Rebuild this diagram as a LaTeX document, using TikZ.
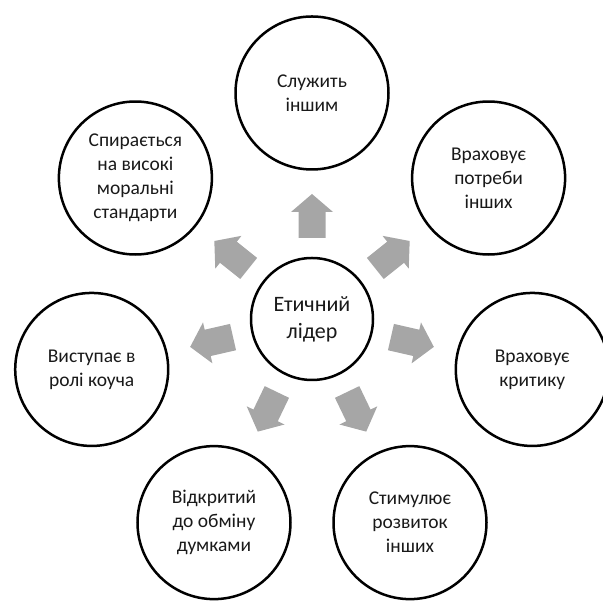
\documentclass[tikz,border=0pt]{standalone}
\usepackage{fontspec}
\setmainfont{Carlito}
\usepackage{xcolor}
\usetikzlibrary{positioning,calc}

\definecolor{arrowgrey}{RGB}{166,166,166}
\definecolor{inkgrey}{RGB}{25,25,25}

\tikzset{
  hub/.style={circle, draw, line width=2.5pt, minimum size=122pt, inner sep=0pt,
    align=center, text=inkgrey, font=\fontsize{22}{27}\selectfont},
  trait/.style={circle, draw, line width=2.5pt, minimum size=153pt, inner sep=0pt,
    align=center, text=inkgrey, font=\fontsize{19.5}{24}\selectfont},
  blockarrow/.style={fill=arrowgrey}
}

\begin{document}
\begin{tikzpicture}[x=1pt, y=1pt]
\useasboundingbox (0,0) rectangle (603,601);

\node[hub] (hub) at (312, 282) {Етичний\\лідер};

\node[trait] (serve)   at ($(hub)+(90:226pt)$)     {Служить\\іншим};
\node[trait] (needs)   at ($(hub)+(38.6:226pt)$)   {Враховує\\потреби\\інших};
\node[trait] (critic)  at ($(hub)+(-12.9:226pt)$)  {Враховує\\критику};
\node[trait] (grow)    at ($(hub)+(-64.3:226pt)$)  {Стимулює\\розвиток\\інших};
\node[trait] (open)    at ($(hub)+(-115.7:226pt)$) {Відкритий\\до обміну\\думками};
\node[trait] (coach)   at ($(hub)+(-167.1:226pt)$) {Виступає в\\ролі коуча};
\node[trait] (moral)   at ($(hub)+(141.4:226pt)$)  {Спирається\\на високі\\моральні\\стандарти};

% block arrows from the hub outwards
\foreach \t in {serve,needs,critic,grow,open,coach,moral}{
  \coordinate (s) at ($(hub.center)!81pt!(\t.center)$);
  \coordinate (h) at ($(hub.center)!107pt!(\t.center)$);
  \coordinate (e) at ($(hub.center)!125pt!(\t.center)$);
  \fill[blockarrow] ($(s)!13.5pt!90:(e)$) -- ($(h)!13.5pt!-90:(s)$)
    -- ($(h)!21pt!-90:(s)$) -- (e) -- ($(h)!21pt!90:(s)$)
    -- ($(h)!13.5pt!90:(s)$) -- ($(s)!13.5pt!-90:(e)$) -- cycle;
}
\end{tikzpicture}
\end{document}
